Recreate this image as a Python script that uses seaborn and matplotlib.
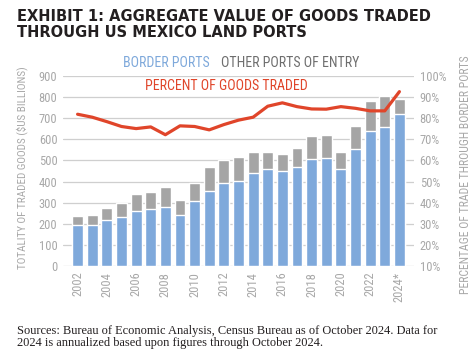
import numpy as np
import pandas as pd
import seaborn as sns
import matplotlib.pyplot as plt
from matplotlib import font_manager
from matplotlib.ticker import FuncFormatter

# values
years = ['2002', '2003', '2004', '2005', '2006', '2007', '2008', '2009', '2010', '2011', '2012',
         '2013', '2014', '2015', '2016', '2017', '2018', '2019', '2020', '2021', '2022', '2023', '2024*']
border_ports = [193, 193, 216, 233, 263, 272, 282, 241, 310, 354, 392,
                404, 439, 458, 452, 470, 508, 514, 458, 555, 639, 659, 722]
total_goods = [236, 241, 274, 297, 340, 353, 373, 312, 395, 467, 500,
               515, 541, 541, 532, 560, 617, 621, 541, 664, 782, 807, 791]
pct_border = [81.9, 80.5, 78.4, 76.1, 75.1, 75.9, 72.2, 76.4, 76.1, 74.5, 77.0,
              79.1, 80.5, 85.7, 87.3, 85.5, 84.4, 84.3, 85.5, 84.7, 83.5, 83.5, 92.6]

df = pd.DataFrame({'year': years, 'border': border_ports, 'total': total_goods, 'pct': pct_border})
df['pos'] = range(len(df))

blue = '#7FA9DB'
grey = '#A5A5A5'
red = '#E0452A'
tick_grey = '#A8A8A8'

sns.set_style('white')

# pick a narrow face if there is one (reference uses a condensed DIN-like font)
avail = {(f.name, f.stretch) for f in font_manager.fontManager.ttflist}
names = {f.name for f in font_manager.fontManager.ttflist}
narrow = dict(family='DejaVu Sans', stretch='normal')
for nm in ['Roboto Condensed', 'Liberation Sans Narrow', 'Open Sans Condensed', 'Noto Sans Condensed']:
    if nm in names:
        narrow = dict(family=nm, stretch='normal')
        break
else:
    if any(n == 'DejaVu Sans' and s == 'condensed' for n, s in avail):
        narrow = dict(family='DejaVu Sans', stretch='condensed')
plt.rcParams['font.family'] = [narrow['family'], 'DejaVu Sans']
plt.rcParams['font.stretch'] = narrow['stretch']

fig = plt.figure(figsize=(4.77, 3.62), dpi=100)
ax = fig.add_axes([0.132, 0.265, 0.736, 0.525])

# stacked bars: total in grey, border ports in blue over it
sns.barplot(data=df, x='year', y='total', color=grey, width=0.75, saturation=1, ax=ax, zorder=2)
sns.barplot(data=df, x='year', y='border', color=blue, width=0.75, saturation=1, ax=ax, zorder=3)

ax.set_ylim(0, 900)
ax.set_yticks(range(0, 901, 100))
ax.yaxis.grid(True, color='#CFCFCF', linewidth=0.9, zorder=0)
ax.set_axisbelow(True)
for s in ax.spines.values():
    s.set_visible(False)
ax.set_xlim(-1.0, len(df))
ax.set_xticks(range(0, len(df), 2))
ax.set_xticklabels(years[::2], rotation=90)
ax.tick_params(axis='both', length=0, labelsize=9, colors=tick_grey, pad=4)
ax.set_xlabel('')
ax.set_ylabel('TOTALITY OF TRADED GOODS ($US BILLIONS)', color=tick_grey, fontsize=8)
ax.yaxis.set_label_coords(-34.5 / 351, (266 - 168) / 190)

ax2 = ax.twinx()
sns.lineplot(data=df, x='pos', y='pct', color=red, linewidth=2.3, ax=ax2, zorder=4)
ax2.set_ylim(10, 100)
ax2.set_yticks(range(10, 101, 10))
ax2.yaxis.set_major_formatter(FuncFormatter(lambda v, p: f'{v:.0f}%'))
ax2.tick_params(axis='y', length=0, labelsize=9, colors=tick_grey, pad=4)
for s in ax2.spines.values():
    s.set_visible(False)
ax2.set_xlabel('')
ax2.set_ylabel('PERCENTAGE OF TRADE THROUGH BORDER PORTS', color=tick_grey, fontsize=8.5,
               rotation=90)
ax2.yaxis.set_label_coords((459 - 63) / 351, (266 - 175) / 190)

# text legend above the plot
fig.text(166 / 477, 1 - 63 / 362, 'BORDER PORTS', color=blue, fontsize=10, ha='center', va='center')
fig.text(290 / 477, 1 - 63 / 362, 'OTHER PORTS OF ENTRY', color='#6E6E6E', fontsize=10, ha='center', va='center')
fig.text(226 / 477, 1 - 86 / 362, 'PERCENT OF GOODS TRADED', color=red, fontsize=10, ha='center', va='center')

fig.text(0.036, 0.975, 'EXHIBIT 1: AGGREGATE VALUE OF GOODS TRADED\nTHROUGH US MEXICO LAND PORTS',
         family='DejaVu Sans', stretch='normal', weight='bold', fontsize=10.5, color='#231F20',
         va='top', ha='left', linespacing=1.1)
fig.text(17 / 477, 1 - 337 / 362,
         'Sources: Bureau of Economic Analysis, Census Bureau as of October 2024. Data for\n'
         '2024 is annualized based upon figures through October 2024.',
         family='Liberation Serif', stretch='normal', fontsize=8.9, color='#231F20',
         va='center', ha='left', linespacing=0.95)

fig.savefig('out.png', dpi=100)
